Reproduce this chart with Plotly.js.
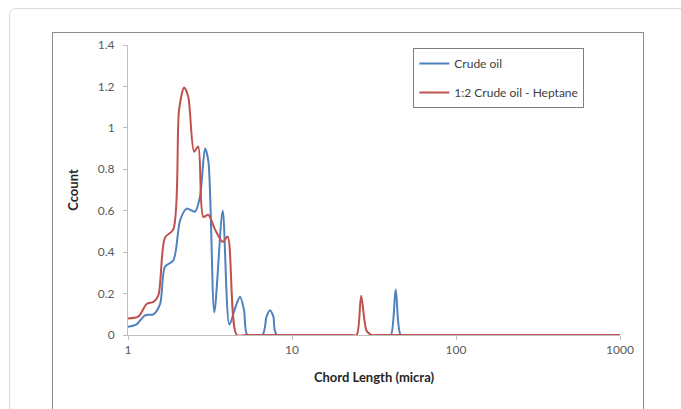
<!DOCTYPE html>
<html>
<head>
<meta charset="utf-8">
<script src="https://cdn.plot.ly/plotly-3.0.1.min.js"></script>
<style>
  html, body { margin: 0; padding: 0; background: #ffffff; width: 681px; height: 409px; overflow: hidden; }
  #outer { position: absolute; left: 9px; top: 8px; width: 700px; height: 440px; border: 1px solid #dcdcdc; border-radius: 7px; }
  #inner { position: absolute; left: 52px; top: 32px; width: 590px; height: 420px; border: 1px solid #8c8c8c; }
  #chart { position: absolute; left: 0; top: 0; width: 681px; height: 409px; }
</style>
</head>
<body>
<div id="outer"></div>
<div id="inner"></div>
<div id="chart"></div>
<script>
// Crude oil (blue)
const crudeX = [1.0, 1.12, 1.27, 1.43, 1.57, 1.68, 1.89, 2.08, 2.28, 2.56, 2.75, 2.95, 3.09, 3.36, 3.78, 4.15, 4.5, 4.82, 5.1, 5.35, 6.6, 7.0, 7.34, 7.7, 8.1, 38, 40.1, 42.9, 46, 50, 1000];
const crudeY = [0.04, 0.05, 0.095, 0.10, 0.15, 0.33, 0.36, 0.555, 0.61, 0.595, 0.67, 0.90, 0.84, 0.11, 0.60, 0.05, 0.13, 0.185, 0.12, 0.0, 0.0, 0.09, 0.12, 0.09, 0.0, 0.0, 0.0, 0.22, 0.0, 0.0, 0.0];

// 1:2 Crude oil - Heptane (red)
const mixX = [1.0, 1.16, 1.30, 1.43, 1.53, 1.68, 1.89, 2.05, 2.20, 2.33, 2.53, 2.68, 2.88, 3.09, 3.39, 3.78, 4.05, 4.6, 5.2, 23, 24.8, 26.4, 28.5, 30.5, 33, 1000];
const mixY = [0.08, 0.09, 0.15, 0.16, 0.19, 0.47, 0.51, 1.09, 1.195, 1.15, 0.885, 0.91, 0.57, 0.58, 0.51, 0.45, 0.475, 0.0, 0.0, 0.0, 0.0, 0.19, 0.02, 0.0, 0.0, 0.0];

const seriesNames = ["Crude oil", "1:2 Crude oil - Heptane"];
const xTickVals = [1, 10, 100, 1000];
const xTickText = ["1", "10", "100", "1000"];
const yTickVals = [0, 0.2, 0.4, 0.6, 0.8, 1.0, 1.2, 1.4];
const yTickText = ["0", "0.2", "0.4", "0.6", "0.8", "1", "1.2", "1.4"];

const font = "Lato, 'Open Sans', sans-serif";

const traces = [
  { x: crudeX, y: crudeY, name: seriesNames[0], type: "scatter", mode: "lines",
    line: { color: "#4f81bd", width: 2, shape: "spline", smoothing: 0.8 }, legendgroup: "a" },
  { x: mixX, y: mixY, name: seriesNames[1], type: "scatter", mode: "lines",
    line: { color: "#c0504d", width: 2, shape: "spline", smoothing: 0.8 }, legendgroup: "b" }
];

const layout = {
  width: 681, height: 409,
  margin: { l: 128, r: 61, t: 45, b: 74 },
  paper_bgcolor: "rgba(0,0,0,0)",
  plot_bgcolor: "rgba(0,0,0,0)",
  font: { family: font, size: 12, color: "#595959" },
  showlegend: true,
  legend: {
    x: 0.58, y: 0.99, xanchor: "left", yanchor: "top",
    bordercolor: "#7f7f7f", borderwidth: 1, bgcolor: "#ffffff",
    font: { family: font, size: 12, color: "#404040" },
    tracegroupgap: 10
  },
  xaxis: {
    type: "log", range: [0, 3],
    tickvals: xTickVals, ticktext: xTickText,
    ticks: "outside", ticklen: 4, tickcolor: "#bfbfbf",
    showline: true, linecolor: "#bfbfbf", linewidth: 1,
    showgrid: false, zeroline: false,
    tickfont: { family: font, size: 12, color: "#595959" },
    title: { text: "<b>Chord Length (micra)</b>", font: { family: font, size: 13, color: "#262626" }, standoff: 16 }
  },
  yaxis: {
    range: [0, 1.4],
    tickvals: yTickVals, ticktext: yTickText,
    ticks: "outside", ticklen: 4, tickcolor: "#bfbfbf",
    ticklabelstandoff: 6,
    showline: true, linecolor: "#bfbfbf", linewidth: 1,
    showgrid: false, zeroline: false,
    tickfont: { family: font, size: 12, color: "#595959" },
    title: { text: "<b>Ccount</b>", font: { family: font, size: 13, color: "#262626" }, standoff: 16 }
  }
};

Plotly.newPlot("chart", traces, layout, { displayModeBar: false, staticPlot: true });
</script>
</body>
</html>
